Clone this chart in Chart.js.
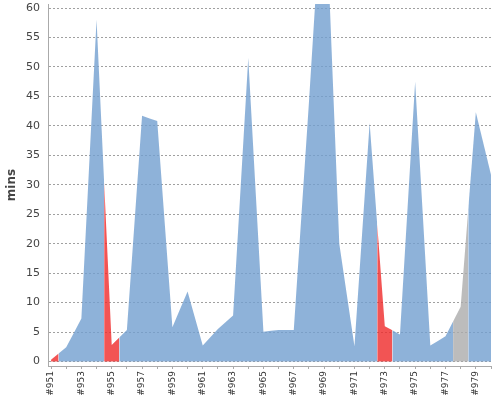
<!DOCTYPE html>
<html><head><meta charset="utf-8">
<script src="https://cdn.jsdelivr.net/npm/chart.js@4.4.0/dist/chart.umd.min.js"></script>
<style>html,body{margin:0;padding:0;background:#fff;}canvas{display:block;}</style>
</head><body>
<canvas id="c" width="500" height="400"></canvas>
<script>
const builds = ['#951','#952','#953','#954','#955','#956','#957','#958','#959','#960',
  '#961','#962','#963','#964','#965','#966','#967','#968','#969','#970',
  '#971','#972','#973','#974','#975','#976','#977','#978','#979','#980'];
const durations = [0.3, 2.4, 7.3, 58, 2.8, 5.35, 41.7, 40.8, 5.8, 11.9,
  2.7, 5.5, 7.8, 51.5, 5.05, 5.35, 5.35, 44, 85, 20,
  2.6, 40.5, 6.0, 4.6, 47.5, 2.7, 4.3, 9.3, 42.3, 31.7];
const results = ['FAILURE','SUCCESS','SUCCESS','SUCCESS','FAILURE','SUCCESS','SUCCESS','SUCCESS','SUCCESS','SUCCESS',
  'SUCCESS','SUCCESS','SUCCESS','SUCCESS','SUCCESS','SUCCESS','SUCCESS','SUCCESS','SUCCESS','SUCCESS',
  'SUCCESS','SUCCESS','FAILURE','SUCCESS','SUCCESS','SUCCESS','SUCCESS','ABORTED','SUCCESS','SUCCESS'];
const yTicks = [0,5,10,15,20,25,30,35,40,45,50,55,60];
const statusColors = {
  SUCCESS: 'rgba(114,159,207,0.8)',
  FAILURE: 'rgba(239,41,41,0.8)',
  ABORTED: 'rgba(171,171,171,0.8)'
};

function seriesFor(status) {
  const pts = [];
  for (let i = 0; i < durations.length; i++) {
    pts.push({x: i, y: results[i] === status ? durations[i] : null});
    if (i < durations.length - 1) {
      const on = results[i] === status || results[i + 1] === status;
      pts.push({x: i + 0.5, y: on ? (durations[i] + durations[i + 1]) / 2 : null});
    }
  }
  return pts;
}

const datasets = Object.keys(statusColors).map(s => ({
  label: s,
  data: seriesFor(s),
  backgroundColor: statusColors[s],
  borderColor: 'rgba(0,0,0,0)',
  borderWidth: 0,
  pointRadius: 0,
  fill: 'origin',
  spanGaps: false,
  tension: 0
}));

const FONT = 'DejaVu Sans';
new Chart(document.getElementById('c'), {
  type: 'line',
  data: {datasets},
  options: {
    responsive: false,
    animation: false,
    layout: {padding: {top: 4, right: 9, left: 0, bottom: 0}},
    plugins: {legend: {display: false}, tooltip: {enabled: false}},
    scales: {
      x: {
        type: 'linear', min: -0.2, max: builds.length - 1,
        afterBuildTicks: s => { s.ticks = builds.map((b, i) => ({value: i})); },
        afterFit: s => { s.height = 34; s.paddingLeft = 0; s.paddingRight = 0; },
        ticks: {
          autoSkip: false, minRotation: 90, maxRotation: 90, padding: 2,
          color: '#333', font: {family: FONT, size: 9},
          callback: (v, i) => (i % 2 === 0 ? builds[i] : '')
        },
        grid: {drawOnChartArea: false, drawTicks: true, tickLength: 3, color: '#aaa'},
        border: {color: '#aaa', width: 1}
      },
      y: {
        min: -0.764, max: 60.68,
        afterBuildTicks: s => { s.ticks = yTicks.map(v => ({value: v})); },
        afterFit: s => { s.width = 48; s.paddingTop = 0; s.paddingBottom = 0; },
        ticks: {padding: 8, color: '#444', font: {family: FONT, size: 11}},
        grid: {color: '#a0a0a0', drawTicks: false},
        border: {color: '#aaa', dash: [2, 2]},
        title: {display: true, text: 'mins', color: '#444',
          font: {family: FONT, size: 12, weight: 'bold'}, padding: {top: 5, bottom: 0}}
      }
    }
  }
});
</script>
</body></html>
